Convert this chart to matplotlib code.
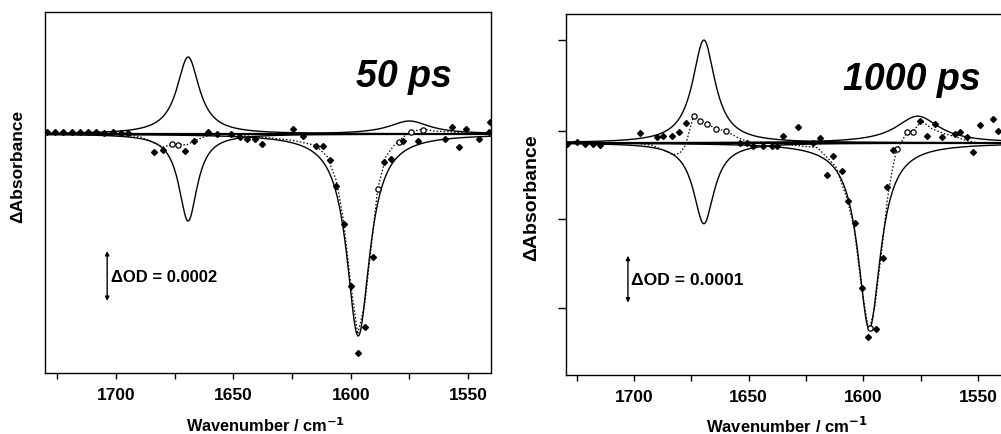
import numpy as np
import matplotlib
matplotlib.use("Agg")
import matplotlib.pyplot as plt
from matplotlib.ticker import MultipleLocator, NullFormatter

plt.rcParams['font.family'] = ['Liberation Sans', 'DejaVu Sans']

# ---- band parameters of the fitted components (absorbance in units of 1e-4) ----
bands_50_center = [1669.3, 1669.3, 1596.8, 1575.0]
bands_50_height = [3.08, -3.48, -8.08, 0.52]
bands_50_hwhm = [5.8, 4.8, 6.0, 10.5]

bands_1000_center = [1669.5, 1669.5, 1597.4, 1576.3]
bands_1000_height = [2.19, -1.72, -3.96, 0.57]
bands_1000_hwhm = [6.0, 5.5, 6.0, 11.5]

# ---- measured points, 50 ps ----
meas_50_x = [1729.5, 1726, 1722.5, 1719, 1715.5, 1712, 1708.5, 1705, 1701.5, 1698, 1695,
             1684, 1680, 1670.5, 1667, 1660.7, 1657, 1651, 1647, 1644, 1640.6, 1637.6,
             1624.8, 1620.5, 1615, 1612, 1609, 1606.4, 1603, 1600, 1597, 1594, 1590.6,
             1585.9, 1583, 1577.8, 1571.4, 1560, 1557, 1554, 1551, 1545.5, 1541, 1540.6]
meas_50_y = [0.1, 0.1, 0.08, 0.1, 0.08, 0.1, 0.08, 0.06, 0.08, 0.04, 0.04,
             -0.72, -0.64, -0.68, -0.28, 0.08, 0.0, 0.0, -0.12, -0.2, -0.2, -0.4,
             0.2, -0.08, -0.48, -0.48, -1.04, -2.08, -3.6, -6.08, -8.76, -7.72, -4.92,
             -1.12, -1.0, -0.28, -0.28, -0.2, 0.28, -0.52, 0.2, -0.2, 0.08, 0.48]

sum_50_x = [1700, 1690, 1684, 1680, 1676, 1673, 1670, 1666, 1662, 1657, 1650, 1640, 1625,
            1615, 1610, 1606, 1603, 1600, 1597, 1594, 1591, 1588.5, 1585, 1581.5, 1579.5,
            1575, 1569, 1564.5, 1557, 1550, 1545]
sum_50_y = [0, -0.1, -0.35, -0.52, -0.42, -0.42, -0.44, -0.25, -0.1, 0, -0.05, -0.1, -0.25,
            -0.45, -0.9, -1.9, -3.5, -6.0, -8.0, -6.8, -4.3, -2.2, -0.9, -0.45, -0.28,
            0.08, 0.2, 0.12, 0.08, 0.02, 0]

open_50_x = [1676, 1673.5, 1588.5, 1579.5, 1574.2, 1569]
open_50_y = [-0.4, -0.42, -2.2, -0.3, 0.08, 0.16]

# ---- measured points, 1000 ps ----
meas_1000_x = [1729.2, 1724.8, 1721.4, 1717.9, 1714.8, 1697.4, 1690, 1687.4, 1683.4, 1680.4,
               1677.3, 1653.8, 1650.7, 1648, 1643.8, 1639.8, 1637.7, 1635, 1628.5, 1622,
               1619, 1616, 1613, 1609.3, 1606.7, 1603.7, 1600.6, 1598, 1594.5, 1591.5,
               1589.7, 1587, 1575.3, 1572.3, 1568.8, 1565.7, 1560, 1557.9, 1554.9, 1552,
               1549, 1543.5, 1541.3]
meas_1000_y = [-0.02, 0.02, -0.02, -0.02, -0.04, 0.21, 0.13, 0.15, 0.15, 0.23,
               0.43, 0.0, 0.0, -0.06, -0.06, -0.06, -0.06, 0.15, 0.34, 0.0,
               0.1, -0.68, -0.28, -0.6, -1.23, -1.7, -3.09, -4.13, -3.96, -2.45,
               -0.94, -0.15, 0.47, 0.15, 0.4, 0.13, 0.19, 0.23, 0.13, -0.19,
               0.38, 0.51, 0.26]

sum_1000_x = [1700, 1692, 1686, 1683, 1680, 1677.5, 1675, 1674, 1671, 1668, 1664, 1660, 1655,
              1650, 1640, 1620, 1612, 1607, 1604, 1601, 1598, 1597.2, 1595, 1592, 1589.5,
              1587.5, 1585.4, 1583, 1581, 1578.4, 1574.5, 1570, 1565, 1561, 1555, 1550]
sum_1000_y = [0, -0.05, -0.18, -0.25, -0.22, -0.05, 0.4, 0.57, 0.47, 0.4, 0.3, 0.26, 0.12,
              0.02, 0, -0.1, -0.5, -1.2, -1.8, -3.0, -3.9, -3.95, -3.5, -2.3, -1.2,
              -0.6, -0.13, 0.05, 0.23, 0.25, 0.47, 0.3, 0.2, 0.15, 0.05, 0.0]

open_1000_x = [1674, 1671, 1668, 1664, 1660, 1585.4, 1581, 1578.4, 1597.2]
open_1000_y = [0.57, 0.47, 0.4, 0.3, 0.26, -0.13, 0.23, 0.23, -3.95]

xtick_values = [1700, 1650, 1600, 1550]
delay_labels = ["50 ps", "1000 ps"]
scale_labels = ["\u0394OD = 0.0002", "\u0394OD = 0.0001"]
scale_sizes = [2.0, 1.0]  # scale bar length in units of 1e-4


def lorentz(x, c, h, w):
    return h / (1.0 + ((x - c) / w) ** 2)


W, H = 1001, 435
fig = plt.figure(figsize=(W / 100, H / 100), dpi=100)


def box(l, t, r, b):
    return [l / W, 1 - b / H, (r - l) / W, (b - t) / H]


ax1 = fig.add_axes(box(45, 13, 491, 374))
ax2 = fig.add_axes(box(566, 15, 1003, 376))

panels = [
    (ax1, bands_50_center, bands_50_height, bands_50_hwhm, meas_50_x, meas_50_y,
     sum_50_x, sum_50_y, open_50_x, open_50_y, (1730.3, 1540.2), (-9.56, 4.88)),
    (ax2, bands_1000_center, bands_1000_height, bands_1000_hwhm, meas_1000_x, meas_1000_y,
     sum_1000_x, sum_1000_y, open_1000_x, open_1000_y, (1729.6, 1539.1), (-4.94, 2.745)),
]

for ax, bc, bh, bw, mx, my, sx, sy, ox, oy, xl, yl in panels:
    grid = np.linspace(xl[1], xl[0], 1200)
    ax.axhline(0, color='black', lw=1.6, zorder=2)
    for c, h, w in zip(bc, bh, bw):
        ax.plot(grid, lorentz(grid, c, h, w), color='black', lw=1.0, zorder=3)
    ax.plot(sx, sy, color='black', lw=0.9, ls=(0, (1.2, 1.6)), zorder=3)
    ax.plot(ox, oy, ls='none', marker='o', ms=3.8, mfc='white', mec='black', mew=0.9, zorder=4)
    ax.plot(mx, my, ls='none', marker='D', ms=3.0, color='black', zorder=5)
    ax.set_xlim(*xl)
    ax.set_ylim(*yl)
    ax.set_xticks(xtick_values)
    ax.xaxis.set_minor_locator(MultipleLocator(25))
    ax.tick_params(axis='x', which='both', direction='out', length=4, width=1, pad=6,
                   labelsize=12.5)
    for lab in ax.get_xticklabels():
        lab.set_fontweight('bold')
    for s in ax.spines.values():
        s.set_linewidth(1.0)
        s.set_color('black')

ax1.set_yticks([])
ax2.set_yticks([2.19, 0.255, -1.617, -3.51])
ax2.yaxis.set_major_formatter(NullFormatter())
ax2.tick_params(axis='y', direction='out', length=6, width=1)
ax2.spines['right'].set_visible(False)

# delay labels
ax1.text(1597.9, 1.92, delay_labels[0], fontsize=27, fontweight='bold', fontstyle='italic',
         ha='left', va='baseline')
ax2.text(1608.9, 1.15, delay_labels[1], fontsize=27, fontweight='bold', fontstyle='italic',
         ha='left', va='baseline')

# scale bars
for ax, xb, ytop, size, lab, fs in [(ax1, 1703.8, -4.68, scale_sizes[0], scale_labels[0], 12),
                                    (ax2, 1702.6, -2.40, scale_sizes[1], scale_labels[1], 12.6)]:
    ax.annotate('', xy=(xb, ytop - size), xytext=(xb, ytop),
                arrowprops=dict(arrowstyle='<|-|>', color='black', lw=1.0,
                                mutation_scale=6, shrinkA=0, shrinkB=0))
    ax.text(xb - 1.5, ytop - size / 2, lab, fontsize=fs, fontweight='bold',
            ha='left', va='center')

# axis titles
for xc, yc, fs in [(266, 426, 11.8), (787, 426, 12.0)]:
    fig.text(xc / W, 1 - yc / H, "Wavenumber / cm$^{\\mathbf{-1}}$", fontsize=fs,
             fontweight='bold', ha='center', va='center')
for xc, yc, fs in [(18, 166, 12.5), (532, 198, 14.0)]:
    fig.text(xc / W, 1 - yc / H, "\u0394Absorbance", fontsize=fs, fontweight='bold',
             rotation=90, ha='center', va='center')

fig.savefig("out.png", dpi=100, facecolor='white')
